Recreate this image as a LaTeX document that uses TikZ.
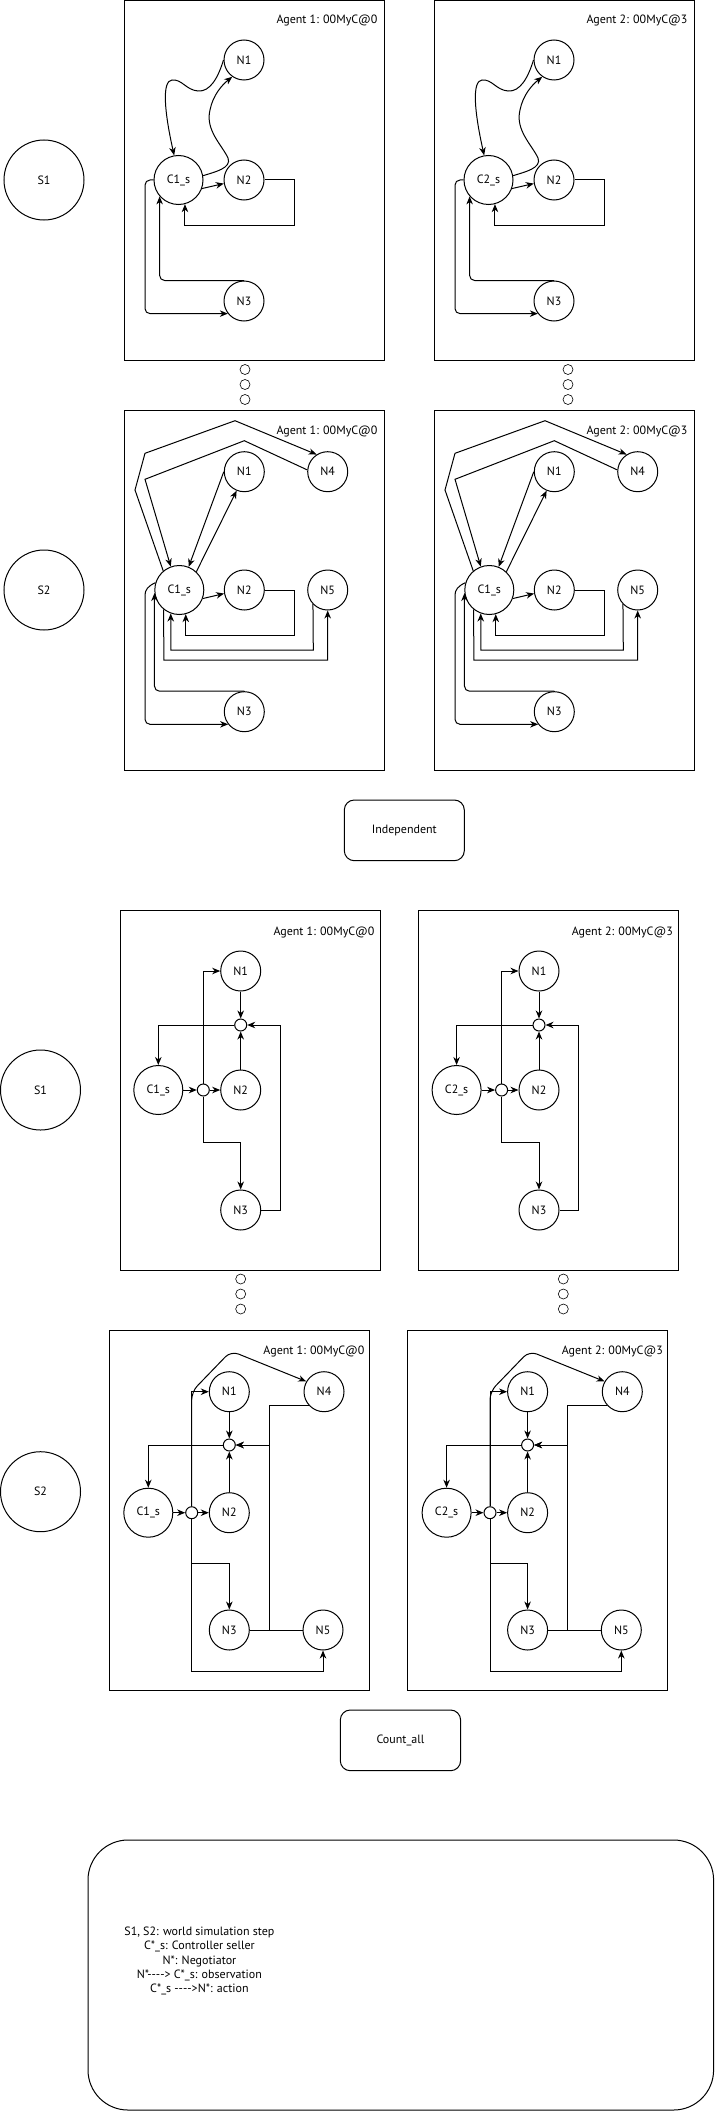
\documentclass[tikz,border=0pt]{standalone}
\usepackage{fontspec}
\setmainfont{PT Sans}
\usetikzlibrary{arrows.meta}
\tikzset{
  nd/.style={draw, circle, inner sep=0pt, minimum size=40pt, font=\fontsize{12}{14}\selectfont},
  ctl/.style={nd, minimum size=49pt},
  big/.style={nd, minimum size=80pt},
  jn/.style={draw, circle, inner sep=0pt, minimum size=12pt},
  dotc/.style={draw, circle, inner sep=0pt, minimum size=10pt, line width=0.6pt},
  panel/.style={draw, rectangle, inner sep=0pt},
  lbl/.style={font=\fontsize{12}{14}\selectfont, inner sep=0pt, anchor=east},
  arr/.style={-{Stealth[length=8pt,width=6.5pt,inset=2.5pt]}},
  rbox/.style={draw, rectangle, rounded corners=10pt, inner sep=0pt, font=\fontsize{12}{14}\selectfont},
}
\newcommand\panelTopOne[2]{%
  \node[panel, minimum width=260pt, minimum height=359pt] (box) at (254,180.5) {};
  \node[lbl] (ag) at (378,21) {#2};
  \node[ctl] (C) at (178.5,180) {#1};
  \node[nd] (N1) at (244,60) {N1};
  \node[nd] (N2) at (244,180) {N2};
  \node[nd] (N3) at (244,301) {N3};
  \draw[arr] (N1.west) .. controls (218,78) and (210,92) .. (198,91) .. controls (186,90) and (182,79) .. (172,80) .. controls (162,81) and (164,110) .. (C.100);
  \draw[arr] (C.10) .. controls (215,172) and (232,168) .. (228,158) .. controls (222,145) and (205,130) .. (210,110) .. controls (213,95) and (222,85) .. (N1.235);
  \draw[arr] (C.-20) -- (N2.190);
  \draw[arr] (N2.east) -| (294,225) -| (C.-75);
  \draw[arr, rounded corners=5pt] (N3.north) -| (C.221);
  \draw[arr, rounded corners=5pt] (C.west) -- (145,180) |- (N3.218);
}
\newcommand\panelTopTwo[2]{%
  \node[panel, minimum width=260pt, minimum height=360pt] (box) at (254,590) {};
  \node[lbl] (ag) at (378,431) {#2};
  \node[ctl] (C) at (179.3,590) {#1};
  \node[nd] (N1) at (244.3,471.7) {N1};
  \node[nd] (N4) at (327.7,471.7) {N4};
  \node[nd] (N2) at (244.3,590) {N2};
  \node[nd] (N5) at (327.7,590) {N5};
  \node[nd] (N3) at (244.3,711.7) {N3};
  \draw[arr] (C.130) -- (135,490) -- (145,453.3) -- (235,420.7) -- (N4.123);
  \draw[arr] (N4.175) -- (244.3,440.7) -- (145,479.3) -- (C.110);
  \draw[arr] (N1.west) -- (C.68);
  \draw[arr] (C.47) -- (N1.248);
  \draw[arr] (C.-20) -- (N2.190);
  \draw[arr] (N2.east) -| (294.3,635) -| (C.-75);
  \draw[arr] (N5.224) -- (313.3,650) -| (C.-110);
  \draw[arr] (C.-129) -- (163.9,660) -| (N5.south);
  \draw[arr, rounded corners=5pt] (N3.north) -| (C.187);
  \draw[arr, rounded corners=5pt] (C.163) .. controls (148,586) and (145,590) .. (145,600) |- (N3.218);
}
\newcommand\panelLowOne[2]{%
  \node[panel, minimum width=259.5pt, minimum height=360.5pt] (box) at (250.35,1090.35) {};
  \node[lbl] (ag) at (375,932.3) {#2};
  \node[ctl] (C) at (158.3,1090) {#1};
  \node[nd] (N1) at (240.7,971) {N1};
  \node[jn] (J1) at (240.7,1025) {};
  \node[jn] (J2) at (203.3,1090) {};
  \node[nd] (N2) at (240.7,1090) {N2};
  \node[nd] (N3) at (240.7,1210) {N3};
  \draw[arr] (C.east) -- (J2.west);
  \draw[arr] (J2.east) -- (N2.west);
  \draw[arr] (J2.north) |- (N1.west);
  \draw[arr] (J2.south) -- (203.3,1142.7) -| (N3.north);
  \draw[arr] (N1.south) -- (J1.north);
  \draw[arr] (N2.north) -- (J1.south);
  \draw[arr] (N3.east) -- (280,1210) |- (J1.east);
  \draw[arr] (J1.west) -| (C.north);
}
\newcommand\panelLowTwo[2]{%
  \node[panel, minimum width=260.3pt, minimum height=360.7pt] (box) at (239.15,1510.35) {};
  \node[lbl] (ag) at (365,1351.7) {#2};
  \node[ctl] (C) at (148.3,1512.7) {#1};
  \node[nd] (N1) at (229.3,1391.7) {N1};
  \node[nd] (N4) at (324,1391.7) {N4};
  \node[jn] (J1) at (229.3,1445) {};
  \node[jn] (J2) at (191.7,1512.7) {};
  \node[nd] (N2) at (229.3,1512.7) {N2};
  \node[nd] (N3) at (229.3,1630) {N3};
  \node[nd] (N5) at (323,1630) {N5};
  \draw[arr] (C.east) -- (J2.west);
  \draw[arr] (J2.east) -- (N2.west);
  \draw[arr] (J2.north) |- (N1.west);
  \draw[arr, rounded corners=8pt] (J2.north) -- (191.7,1391.7) -- (231,1351) -- (N4.150);
  \draw[arr] (J2.south) -- (191.7,1563.3) -| (N3.north);
  \draw[arr] (J2.south) -- (191.7,1671.7) -| (N5.south);
  \draw[arr] (N1.south) -- (J1.north);
  \draw[arr] (N2.north) -- (J1.south);
  \draw[arr] (N4.222) -| (269.3,1445) -- (J1.east);
  \draw[arr] (N3.east) -- (269.3,1630) |- (J1.east);
  \draw (N5.west) -- (269.3,1630);
  \draw[arr] (J1.west) -| (C.north);
}
\begin{document}
\begin{tikzpicture}[x=1pt,y=-1pt,line width=1pt]
\useasboundingbox (0,0) rectangle (715,2111);
% world steps
\node[big] (s1a) at (44,180) {S1};
\node[big] (s2a) at (44,590) {S2};
\node[big] (s1b) at (40.5,1090) {S1};
\node[big] (s2b) at (40.5,1491.7) {S2};
% top (independent) panels
\begin{scope}[name prefix=ta-]
  \panelTopOne{C1\_s}{Agent 1: 00MyC@0}
\end{scope}
\begin{scope}[shift={(310,0)}, name prefix=tb-]
  \panelTopOne{C2\_s}{Agent 2: 00MyC@3}
\end{scope}
\begin{scope}[name prefix=tc-]
  \panelTopTwo{C1\_s}{Agent 1: 00MyC@0}
\end{scope}
\begin{scope}[shift={(310,0)}, name prefix=td-]
  \panelTopTwo{C1\_s}{Agent 2: 00MyC@3}
\end{scope}
% lower (count_all) panels
\begin{scope}[name prefix=la-]
  \panelLowOne{C1\_s}{Agent 1: 00MyC@0}
\end{scope}
\begin{scope}[shift={(298.3,0)}, name prefix=lb-]
  \panelLowOne{C2\_s}{Agent 2: 00MyC@3}
\end{scope}
\begin{scope}[name prefix=lc-]
  \panelLowTwo{C1\_s}{Agent 1: 00MyC@0}
\end{scope}
\begin{scope}[shift={(298.3,0)}, name prefix=ld-]
  \panelLowTwo{C2\_s}{Agent 2: 00MyC@3}
\end{scope}
% ellipsis dots
\node[dotc] (d1) at (245,369.5) {};
\node[dotc] (d2) at (245,384.5) {};
\node[dotc] (d3) at (245,399.5) {};
\node[dotc] (d4) at (568,369.5) {};
\node[dotc] (d5) at (568,384.5) {};
\node[dotc] (d6) at (568,399.5) {};
\node[dotc] (d7) at (240.7,1279) {};
\node[dotc] (d8) at (240.7,1294) {};
\node[dotc] (d9) at (240.7,1309) {};
\node[dotc] (d10) at (563.3,1279) {};
\node[dotc] (d11) at (563.3,1294) {};
\node[dotc] (d12) at (563.3,1309) {};
% captions
\node[rbox, minimum width=120pt, minimum height=60.7pt] (indep) at (404.3,830.35) {Independent};
\node[rbox, minimum width=120.3pt, minimum height=60.7pt] (countall) at (400.45,1740.35) {Count\_all};
% legend
\node[draw, rectangle, rounded corners=40pt, minimum width=625.6pt, minimum height=270pt, inner sep=0pt] (legend) at (400.8,1975) {};
\node[align=center, inner sep=0pt, font=\fontsize{12}{14.4}\selectfont] (legtxt) at (199.4,1961) {S1, S2: world simulation step\\C*\_s: Controller seller\\N*: Negotiator\\N*-{}-{}-{}-> C*\_s: observation\\C*\_s -{}-{}-{}->N*: action};
\end{tikzpicture}
\end{document}
